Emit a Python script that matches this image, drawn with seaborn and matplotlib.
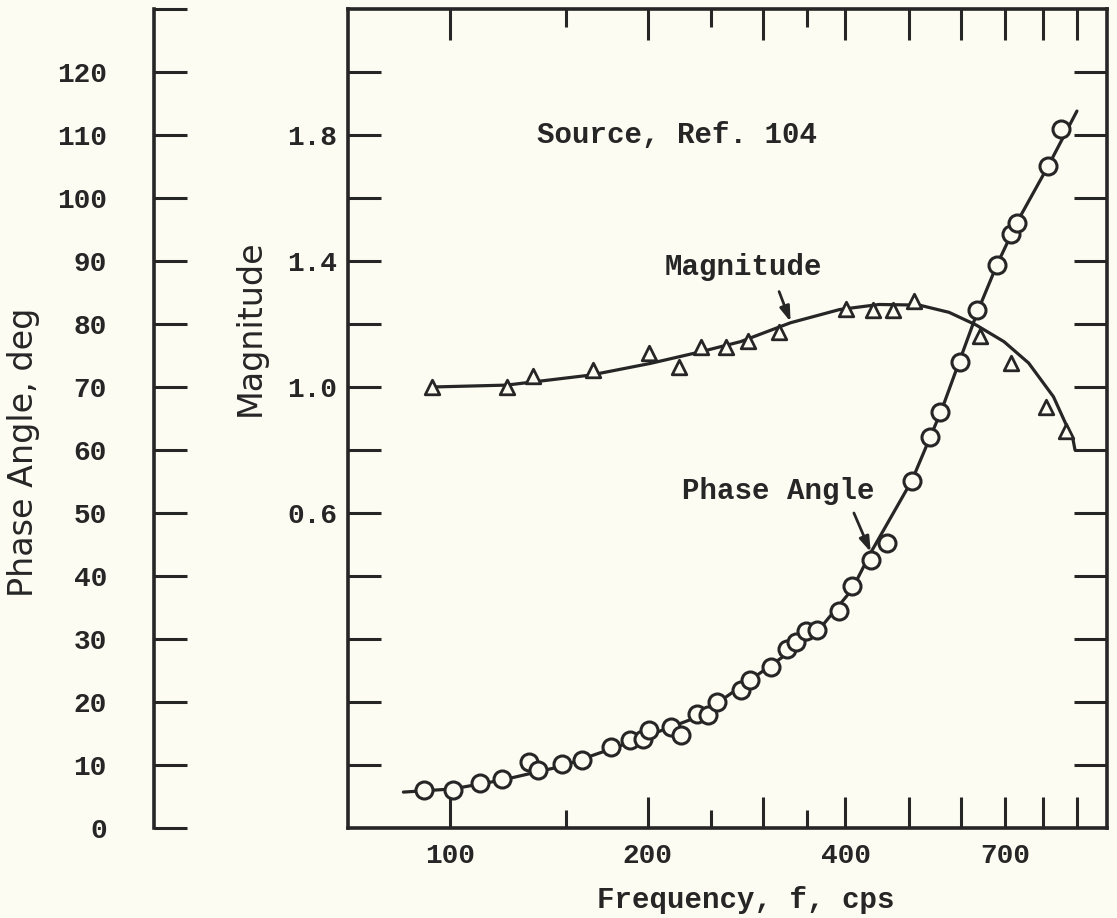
import matplotlib
matplotlib.use("Agg")
import matplotlib.pyplot as plt
from matplotlib.ticker import FixedLocator, FixedFormatter, NullFormatter
import pandas as pd
import seaborn as sns

# ---- measured magnitude ratio (triangles) ----
mag_freq = [94, 122, 134, 165, 201, 223, 241, 263, 284, 317, 401, 441, 473, 509, 641, 715, 808, 866]
mag_value = [1.00, 1.00, 1.035, 1.054, 1.109, 1.064, 1.127, 1.128, 1.147, 1.176,
             1.247, 1.244, 1.244, 1.274, 1.163, 1.076, 0.937, 0.859]

# ---- faired magnitude curve ----
mag_curve_freq = [94, 122, 164, 202, 241, 277, 330, 392, 450, 518, 575, 632, 697, 760, 829, 888, 894]
mag_curve_value = [1.00, 1.006, 1.038, 1.075, 1.112, 1.144, 1.204, 1.246, 1.262, 1.260,
                   1.237, 1.197, 1.144, 1.076, 0.969, 0.832, 0.80]

# ---- measured phase angle (circles), deg ----
phase_freq = [91.5, 101, 111, 120, 132, 136, 148, 159, 176, 188, 197, 201, 217, 225, 238,
              247, 255, 277, 286, 308, 326, 336, 348, 362, 391, 409, 437, 463, 505, 537,
              558, 598, 635, 680, 715, 730, 814, 850]
phase_deg = [6.0, 6.1, 7.2, 7.8, 10.5, 9.2, 10.2, 10.8, 12.8, 13.9, 14.2, 15.6, 16.0, 14.8,
             18.1, 17.9, 20.0, 21.9, 23.5, 25.6, 28.4, 29.6, 31.3, 31.4, 34.4, 38.4, 42.5,
             45.2, 55.1, 62.1, 66.0, 74.0, 82.2, 89.4, 94.3, 96.1, 105.1, 111.0]

# ---- faired phase curve ----
phase_curve_freq = [85, 101, 120, 148, 188, 238, 308, 362, 409, 437, 505, 560, 635, 680,
                    730, 814, 900]
phase_curve_deg = [5.7, 6.2, 7.6, 9.8, 13.6, 17.6, 25.8, 31.1, 37.8, 43.7, 55.2, 66.3,
                   81.9, 89.4, 96.2, 105.1, 113.8]

# ---- axis ticks ----
freq_major = [100, 200, 300, 400, 500, 600, 700, 800, 900]
freq_major_labels = ["100", "200", "", "400", "", "", "700", "", ""]
freq_minor = [150, 250, 350]
mag_ticks = [-0.2, 0.0, 0.2, 0.4, 0.6, 0.8, 1.0, 1.2, 1.4, 1.6, 1.8, 2.0]
mag_tick_labels = ["", "", "", "", "0.6", "", "1.0", "", "1.4", "", "1.8", ""]
phase_ticks = [0, 10, 20, 30, 40, 50, 60, 70, 80, 90, 100, 110, 120]

mag_pts = pd.DataFrame({"freq": mag_freq, "mag": mag_value})
mag_line = pd.DataFrame({"freq": mag_curve_freq, "mag": mag_curve_value})
ph_pts = pd.DataFrame({"freq": phase_freq, "deg": phase_deg})
ph_line = pd.DataFrame({"freq": phase_curve_freq, "deg": phase_curve_deg})

sns.set_style("white")
MONO = ["Liberation Mono", "DejaVu Sans Mono"]
plt.rcParams["font.family"] = MONO
plt.rcParams["font.weight"] = "bold"

PAPER = "#fcfcf2"
INK = "#262626"
W, H = 1117, 918

fig = plt.figure(figsize=(W / 100, H / 100), dpi=100, facecolor=PAPER)

# main frame, magnitude scale
x0, x1, ytop, ybot = 348, 1107, 9, 828
ax = fig.add_axes([x0 / W, (H - ybot) / H, (x1 - x0) / W, (ybot - ytop) / H])
ax.set_facecolor("none")
ax.set_xscale("log")
ax.set_xlim(70, 1000)
ax.set_ylim(-0.4, 2.2)

# phase angle sharing the frequency axis
axp = ax.twinx()
axp.set_ylim(0, 130)
axp.set_yticks([])
for s in axp.spines.values():
    s.set_visible(False)

sns.lineplot(data=mag_line, x="freq", y="mag", ax=ax, color=INK, lw=2.3,
             sort=False, estimator=None, zorder=2)
sns.scatterplot(data=mag_pts, x="freq", y="mag", ax=ax, marker="^", s=110,
                color=PAPER, edgecolor=INK, linewidth=2.0, zorder=3)
sns.lineplot(data=ph_line, x="freq", y="deg", ax=axp, color=INK, lw=2.3,
             sort=False, estimator=None, zorder=2)
sns.scatterplot(data=ph_pts, x="freq", y="deg", ax=axp, marker="o", s=150,
                color=PAPER, edgecolor=INK, linewidth=2.2, zorder=3)
axp.set_xlim(70, 1000)
axp.set_ylim(0, 130)

for s in ax.spines.values():
    s.set_linewidth(2.6)
    s.set_color(INK)

ax.xaxis.set_major_locator(FixedLocator(freq_major))
ax.xaxis.set_major_formatter(FixedFormatter(freq_major_labels))
ax.xaxis.set_minor_locator(FixedLocator(freq_minor))
ax.xaxis.set_minor_formatter(NullFormatter())
ax.tick_params(axis="x", which="major", direction="in", length=22, width=2.2,
               top=True, bottom=True, pad=11, labelsize=20, colors=INK)
ax.tick_params(axis="x", which="minor", direction="in", length=13, width=2.2,
               top=True, bottom=True)
ax.yaxis.set_major_locator(FixedLocator(mag_ticks))
ax.yaxis.set_major_formatter(FixedFormatter(mag_tick_labels))
ax.yaxis.set_minor_locator(FixedLocator([]))
ax.tick_params(axis="y", which="major", direction="in", length=24, width=2.2,
               left=True, right=True, pad=8, labelsize=20, colors=INK)
ax.set_xlabel("")
ax.set_ylabel("")
axp.set_ylabel("")

# separate phase angle scale on the left
xp = 154
axl = fig.add_axes([xp / W, (H - ybot) / H, 0.0005, (ybot - ytop) / H])
axl.set_facecolor("none")
axl.set_ylim(0, 130)
axl.set_xticks([])
for side in ("top", "right", "bottom"):
    axl.spines[side].set_visible(False)
axl.spines["left"].set_linewidth(2.6)
axl.spines["left"].set_color(INK)
axl.yaxis.set_major_locator(FixedLocator(phase_ticks))
axl.yaxis.set_minor_locator(FixedLocator([130]))
axl.yaxis.set_minor_formatter(NullFormatter())
axl.tick_params(axis="y", which="both", direction="in", length=24, width=2.2,
                left=True, right=False, pad=34, labelsize=20, colors=INK)

# rotated axis titles in a plain sans face
side_font = dict(family=["DejaVu Sans"], weight="normal", fontsize=24, color=INK)
fig.text(24 / W, 1 - 452 / H, "Phase Angle, deg", rotation=90, ha="center",
         va="center", **side_font)
fig.text(250 / W, 1 - 328 / H, "Magnitude", rotation=90, ha="center",
         va="center", **side_font)
fig.text(746 / W, 1 - 900 / H, "Frequency, f, cps", ha="center", va="center",
         fontsize=21, color=INK)

ax.text(222, 1.80, "Source, Ref. 104", ha="center", va="center", fontsize=21, color=INK)
ax.text(280, 1.38, "Magnitude", ha="center", va="center", fontsize=21, color=INK)
ax.annotate("", xy=(330, 1.207), xytext=(317, 1.303),
            arrowprops=dict(arrowstyle="-|>,head_length=0.9,head_width=0.3",
                            color=INK, lw=2.0, shrinkA=0, shrinkB=0))
ax.text(316, 0.67, "Phase Angle", ha="center", va="center", fontsize=21, color=INK)
ax.annotate("", xy=(437, 0.476), xytext=(412, 0.60),
            arrowprops=dict(arrowstyle="-|>,head_length=0.9,head_width=0.3",
                            color=INK, lw=2.0, shrinkA=0, shrinkB=0))

fig.savefig("out.png", dpi=100, facecolor=PAPER)
